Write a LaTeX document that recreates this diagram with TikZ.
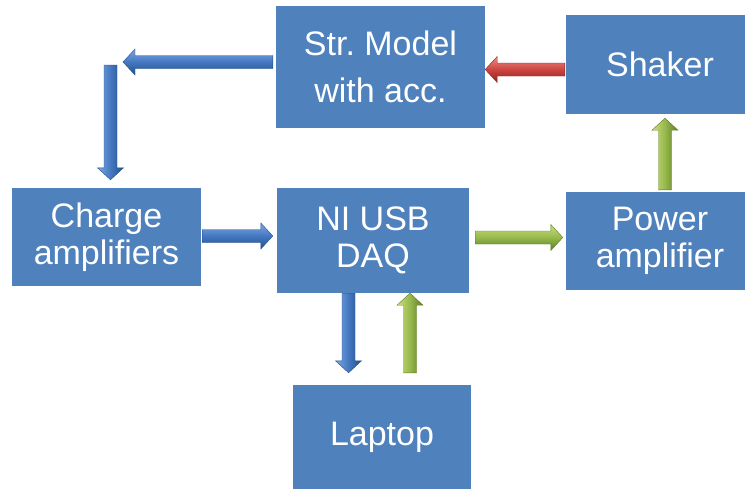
\documentclass[tikz,border=0pt]{standalone}
\usepackage{fontspec}
\setmainfont{Liberation Sans}
\usetikzlibrary{calc}
\frenchspacing

\definecolor{boxblue}{HTML}{4F81BD}
\definecolor{bluelight}{HTML}{7DA9E3}
\definecolor{bluemid}{HTML}{4477C0}
\definecolor{bluedark}{HTML}{24508C}
\definecolor{redlight}{HTML}{EE8A84}
\definecolor{redmid}{HTML}{CC4540}
\definecolor{reddark}{HTML}{8E2320}
\definecolor{greenlight}{HTML}{C9E07E}
\definecolor{greenmid}{HTML}{96B84C}
\definecolor{greendark}{HTML}{5F7D25}

\tikzset{
  blockbox/.style={fill=boxblue, draw=none, text=white, align=center,
    inner sep=0pt, font=\fontsize{34}{37}\selectfont},
}

% Shaded block arrow from #1 to the tip #2, colour family #3, shading angle #4
\newcommand\blockarrow[4]{%
  \coordinate (hb) at ($(#2)!12pt!(#1)$);
  \shadedraw[top color=#3light, bottom color=#3dark, middle color=#3mid,
      shading angle=#4, draw=#3dark, line width=0.4pt, line join=miter]
    ($(#1)!6.5pt!90:(#2)$) -- ($(hb)!6.5pt!-90:(#1)$) -- ($(hb)!13pt!-90:(#1)$)
    -- (#2) -- ($(hb)!13pt!90:(#1)$) -- ($(hb)!6.5pt!90:(#1)$)
    -- ($(#1)!6.5pt!-90:(#2)$) -- cycle;
}

\begin{document}
\begin{tikzpicture}[x=1pt, y=-1pt]
  \useasboundingbox (0,0) rectangle (745,488);
  \clip (0,0) rectangle (745,488);

  % blocks
  \node[blockbox, minimum width=209, minimum height=122,
        font=\fontsize{34}{47}\selectfont] (model) at (380.5,67) {Str. Model\\with acc.};
  \node[blockbox, minimum width=188, minimum height=99] (shaker) at (660,64.5) {Shaker};
  \node[blockbox, minimum width=189, minimum height=98] (charge) at (106.5,237) {Charge\\amplifiers};
  \node[blockbox, minimum width=192, minimum height=105] (daq) at (373,240.5) {NI USB\\DAQ};
  \node[blockbox, minimum width=188, minimum height=98] (power) at (660,241) {Power\\amplifier};
  \node[blockbox, minimum width=178, minimum height=104] (laptop) at (382,437) {Laptop};

  % free corner ends of the signal path to the charge amplifiers
  \coordinate (turnA) at (123,62);
  \coordinate (turnB) at (110.5,65);

  % connectors
  \blockarrow{$(model.west)+(-3,-5)$}{turnA}{blue}{0}
  \blockarrow{turnB}{$(charge.north)+(4,-8)$}{blue}{90}
  \blockarrow{$(charge.east)+(1,-1)$}{$(daq.west)+(-4,-4.5)$}{blue}{0}
  \blockarrow{$(daq.east)+(6,-3)$}{$(power.west)+(-3,-3.5)$}{green}{0}
  \blockarrow{$(power.north)+(5,-2)$}{$(shaker.south)+(5,4)$}{green}{90}
  \blockarrow{$(shaker.west)+(-1,5)$}{$(model.east)+(0,2.5)$}{red}{0}
  \blockarrow{$(daq.south)+(-24.5,0)$}{$(laptop.north)+(-33.5,-12)$}{blue}{90}
  \blockarrow{$(laptop.north)+(28,-12)$}{$(daq.south)+(37,0)$}{green}{90}
\end{tikzpicture}
\end{document}
